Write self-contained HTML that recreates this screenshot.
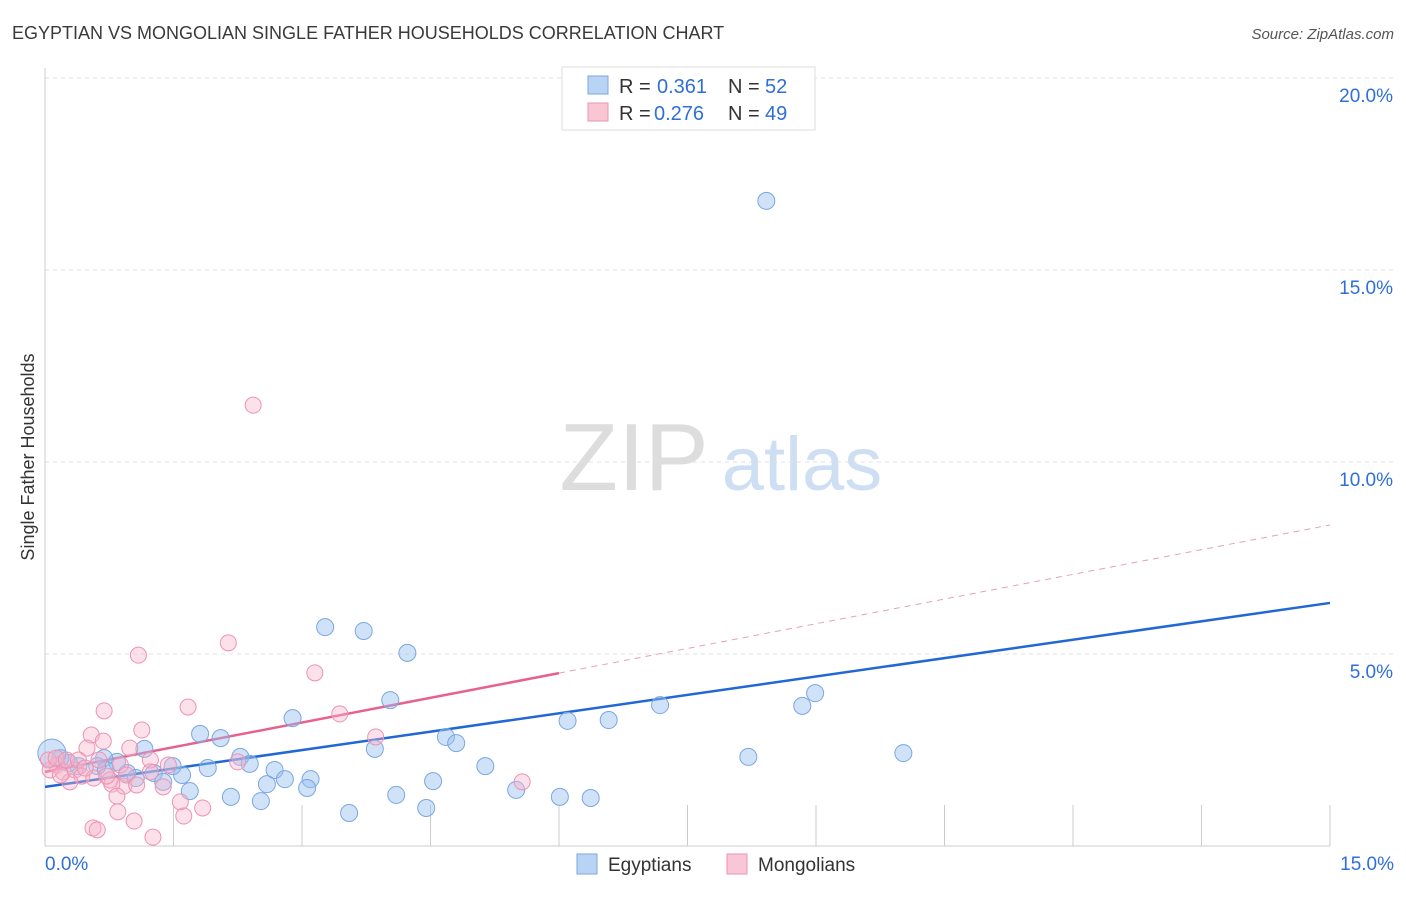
<!DOCTYPE html>
<html><head><meta charset="utf-8">
<style>
body{margin:0;background:#fff;font-family:"Liberation Sans",sans-serif;}
svg text{font-family:"Liberation Sans",sans-serif;}
</style></head>
<body>
<svg id="chart" width="1406" height="892" xmlns="http://www.w3.org/2000/svg">
<text x="12" y="39" font-size="18" fill="#3a3a3a">EGYPTIAN VS MONGOLIAN SINGLE FATHER HOUSEHOLDS CORRELATION CHART</text>
<text x="1394" y="39" font-size="15" fill="#555" font-style="italic" text-anchor="end">Source: ZipAtlas.com</text>
<text transform="translate(34,457) rotate(-90)" font-size="18" fill="#333" text-anchor="middle">Single Father Households</text>
<g>
<text x="634" y="490" font-size="96" fill="#ddd" font-family="Liberation Serif" text-anchor="middle">ZIP</text>
<text x="802" y="490" font-size="76" fill="#cfdff3" text-anchor="middle">atlas</text>
</g>
<g id="grid"></g>
<g id="axes"></g>
<g id="lines"></g>
<g id="points"></g>
<g>
<rect x="562" y="67" width="253" height="63" fill="#fff" stroke="#ddd"/>
<rect x="588" y="76" width="20" height="18" fill="#b9d3f5" stroke="#7aa7e0"/>
<text x="619" y="93" font-size="20" fill="#333">R =</text>
<text x="657" y="93" font-size="20" fill="#2f6fd6">0.361</text>
<text x="728" y="93" font-size="20" fill="#333">N =</text>
<text x="765" y="93" font-size="20" fill="#2f6fd6">52</text>
<rect x="588" y="103" width="20" height="18" fill="#f9c6d6" stroke="#ec93b0"/>
<text x="619" y="120" font-size="20" fill="#333">R =</text>
<text x="654" y="120" font-size="20" fill="#2f6fd6">0.276</text>
<text x="728" y="120" font-size="20" fill="#333">N =</text>
<text x="765" y="120" font-size="20" fill="#2f6fd6">49</text>
</g>
<g>
<rect x="577" y="854" width="20" height="20" fill="#b9d3f5" stroke="#7aa7e0"/>
<text x="608" y="871" font-size="19" fill="#333">Egyptians</text>
<rect x="727" y="854" width="20" height="20" fill="#f9c6d6" stroke="#ec93b0"/>
<text x="758" y="871" font-size="19" fill="#333">Mongolians</text>
</g>
</svg>
<script>
const yTicks=[5,10,15,20];
const yTickLabels=["5.0%","10.0%","15.0%","20.0%"];
const xTickLabels=["0.0%","15.0%"];
const egyX=[8.42,3.27,3.72,4.23,4.03,2.89,1.81,2.05,4.68,4.80,3.85,5.14,6.10,6.58,7.18,8.84,8.99,8.21,10.02,2.28,2.39,1.90,2.68,2.80,3.10,3.06,2.59,1.60,1.27,1.38,1.49,1.69,2.17,2.52,3.55,4.10,4.45,4.53,5.50,6.01,6.37,1.16,0.96,1.06,0.84,0.69,0.61,0.39,0.28,0.18,0.08,0.71];
const egyY=[16.80,5.70,5.60,5.03,3.80,3.33,2.92,2.81,2.84,2.68,2.53,2.08,3.26,3.28,3.67,3.65,3.98,2.32,2.42,2.32,2.14,2.03,1.98,1.74,1.74,1.51,1.61,1.85,1.90,1.67,2.08,1.43,1.28,1.17,0.86,1.33,0.99,1.69,1.46,1.28,1.25,2.53,1.90,1.77,2.19,2.29,2.08,2.08,2.16,2.29,2.42,1.98];
const monX=[2.43,1.09,2.14,3.15,1.67,0.69,3.44,1.13,0.54,3.86,0.68,0.49,0.99,0.88,1.23,1.44,2.25,0.14,0.21,0.35,0.43,0.29,0.57,0.76,0.92,0.78,1.38,0.84,1.58,1.84,1.62,0.85,1.04,0.56,0.61,1.26,5.57,0.06,0.04,0.13,0.25,0.39,0.63,0.95,1.07,0.72,0.47,0.18,1.23];
const monY=[11.48,4.97,5.29,4.51,3.62,3.52,3.44,3.02,2.89,2.84,2.73,2.55,2.55,2.11,2.24,2.11,2.19,2.11,1.93,1.98,1.82,1.67,1.77,1.72,1.56,1.61,1.54,1.30,1.15,0.99,0.78,0.89,0.65,0.47,0.42,0.23,1.67,1.98,2.24,2.29,2.24,2.24,2.24,1.85,1.59,1.82,2.03,1.85,1.93];
const egyTrend=[1.54,6.33];
const monTrend=[1.93,8.36];
const monSolidEnd=6.0;

const NS="http://www.w3.org/2000/svg";
const xs=v=>45+v*(1285/15);
const ys=v=>846-v*38.4;
function mk(tag,attrs,parent){const e=document.createElementNS(NS,tag);for(const k in attrs)e.setAttribute(k,attrs[k]);document.getElementById(parent).appendChild(e);return e;}

yTicks.forEach((t,i)=>{
  const l=mk('line',{x1:45,x2:1394,y1:ys(t),y2:ys(t),stroke:'#e0e0e0','stroke-dasharray':'4,4'},'grid');
  
  
  const tx=mk('text',{x:1393,y:ys(t)+24,'font-size':19,fill:'#2f6fd6','text-anchor':'end'},'grid');
  tx.textContent=yTickLabels[i];
  
  
});
const ax=mk('line',{x1:45,x2:45,y1:68,y2:846,stroke:'#ccc'},'axes');


const bx=mk('line',{x1:45,x2:1330,y1:846,y2:846,stroke:'#ccc'},'axes');


for(let i=0;i<=10;i++){
  const t=mk('line',{x1:xs(i*1.5),x2:xs(i*1.5),y1:805,y2:846,stroke:'#ccc'},'axes');
  
  
}
[[0,'start',45],[15,'end',1394]].forEach((d,i)=>{
  const t=mk('text',{x:d[2],y:870,'font-size':19,fill:'#2f6fd6','text-anchor':d[1]},'axes');
  t.textContent=xTickLabels[i];
  
  
});

egyX.forEach((x,i)=>{
  const c=mk('circle',{cx:xs(x),cy:ys(egyY[i]),r:i===50?14:8.5,fill:'rgba(150,190,240,0.45)',stroke:'#7aa7e0','stroke-width':1},'points');
  
  
});
monX.forEach((x,i)=>{
  const c=mk('circle',{cx:xs(x),cy:ys(monY[i]),r:8,fill:'rgba(248,180,202,0.4)',stroke:'#ec93b0','stroke-width':1},'points');
  
  
});
const monAt=x=>monTrend[0]+(monTrend[1]-monTrend[0])*x/15;
const l1=mk('line',{x1:xs(0),y1:ys(egyTrend[0]),x2:xs(15),y2:ys(egyTrend[1]),stroke:'#2168d6','stroke-width':2.5},'lines');


const l2=mk('line',{x1:xs(0),y1:ys(monTrend[0]),x2:xs(monSolidEnd),y2:ys(monAt(monSolidEnd)),stroke:'#e8608e','stroke-width':2.5},'lines');


const l3=mk('line',{x1:xs(monSolidEnd),y1:ys(monAt(monSolidEnd)),x2:xs(15),y2:ys(monTrend[1]),stroke:'#e8a0b8','stroke-width':1,'stroke-dasharray':'6,5'},'lines');


</script>
</body></html>
